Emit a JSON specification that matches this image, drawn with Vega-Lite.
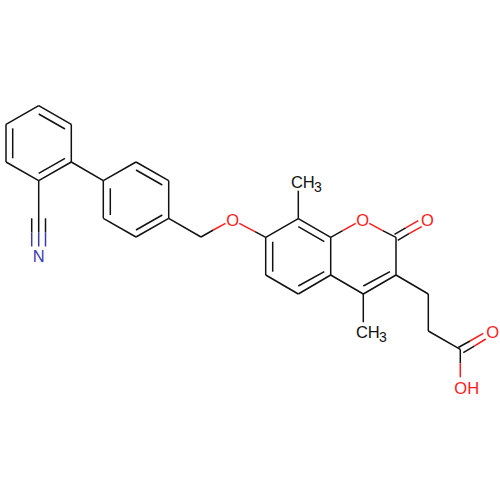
{
  "$schema": "https://vega.github.io/schema/vega-lite/v6.json",
  "width": 500,
  "height": 500,
  "padding": 0,
  "autosize": {"type": "fit", "contains": "padding"},
  "background": "white",
  "view": {"stroke": null},
  "datasets": {
    "bonds": [
      {"x": 38.7, "y": 105.7, "x2": 71.3, "y2": 124.3, "el": "C"},
      {"x": 71.3, "y": 124.3, "x2": 71.3, "y2": 162, "el": "C"},
      {"x": 71.3, "y": 162, "x2": 38.7, "y2": 180.7, "el": "C"},
      {"x": 38.7, "y": 180.7, "x2": 6, "y2": 162, "el": "C"},
      {"x": 6, "y": 162, "x2": 6, "y2": 124.3, "el": "C"},
      {"x": 6, "y": 124.3, "x2": 38.7, "y2": 105.7, "el": "C"},
      {"x": 38.7, "y": 114, "x2": 65, "y2": 129, "el": "C"},
      {"x": 12.7, "y": 128.3, "x2": 12.7, "y2": 158.3, "el": "C"},
      {"x": 65, "y": 158.3, "x2": 38.7, "y2": 173.3, "el": "C"},
      {"x": 38.7, "y": 180.7, "x2": 38.7, "y2": 232.5, "el": "C"},
      {"x": 38.7, "y": 232.5, "x2": 38.7, "y2": 246.5, "el": "N"},
      {"x": 31.7, "y": 218.3, "x2": 31.7, "y2": 232.5, "el": "C"},
      {"x": 31.7, "y": 232.5, "x2": 31.7, "y2": 246.5, "el": "N"},
      {"x": 45.5, "y": 218.3, "x2": 45.5, "y2": 232.5, "el": "C"},
      {"x": 45.5, "y": 232.5, "x2": 45.5, "y2": 246.5, "el": "N"},
      {"x": 71.3, "y": 162, "x2": 103.3, "y2": 180.7, "el": "C"},
      {"x": 103.3, "y": 180.7, "x2": 136, "y2": 162, "el": "C"},
      {"x": 136, "y": 162, "x2": 168.7, "y2": 180.7, "el": "C"},
      {"x": 168.7, "y": 180.7, "x2": 168.7, "y2": 218.3, "el": "C"},
      {"x": 168.7, "y": 218.3, "x2": 136, "y2": 237, "el": "C"},
      {"x": 136, "y": 237, "x2": 103.3, "y2": 218.3, "el": "C"},
      {"x": 103.3, "y": 218.3, "x2": 103.3, "y2": 180.7, "el": "C"},
      {"x": 136, "y": 170, "x2": 162.3, "y2": 185, "el": "C"},
      {"x": 110.3, "y": 188.3, "x2": 110.3, "y2": 215, "el": "C"},
      {"x": 162.3, "y": 215, "x2": 136, "y2": 230, "el": "C"},
      {"x": 168.7, "y": 218.3, "x2": 201, "y2": 237, "el": "C"},
      {"x": 201, "y": 237, "x2": 213.3, "y2": 230, "el": "C"},
      {"x": 213.3, "y": 230, "x2": 225.5, "y2": 223.3, "el": "O"},
      {"x": 239.3, "y": 223.3, "x2": 255, "y2": 231.7, "el": "O"},
      {"x": 255, "y": 231.7, "x2": 265.7, "y2": 237.3, "el": "C"},
      {"x": 265.7, "y": 237.3, "x2": 298.3, "y2": 218.7, "el": "C"},
      {"x": 298.3, "y": 218.7, "x2": 330.7, "y2": 237.3, "el": "C"},
      {"x": 330.7, "y": 237.3, "x2": 330.7, "y2": 275, "el": "C"},
      {"x": 330.7, "y": 275, "x2": 298.3, "y2": 294, "el": "C"},
      {"x": 298.3, "y": 294, "x2": 265.7, "y2": 275, "el": "C"},
      {"x": 265.7, "y": 275, "x2": 265.7, "y2": 237.3, "el": "C"},
      {"x": 298.3, "y": 226.7, "x2": 324.3, "y2": 241.7, "el": "C"},
      {"x": 272.7, "y": 241.7, "x2": 272.7, "y2": 271.7, "el": "C"},
      {"x": 324.3, "y": 271.7, "x2": 298.3, "y2": 286, "el": "C"},
      {"x": 298.3, "y": 218.7, "x2": 298.3, "y2": 190.7, "el": "C"},
      {"x": 330.7, "y": 237.3, "x2": 342.7, "y2": 230.7, "el": "C"},
      {"x": 342.7, "y": 230.7, "x2": 355.7, "y2": 223.3, "el": "O"},
      {"x": 369.3, "y": 223.3, "x2": 382.7, "y2": 230.7, "el": "O"},
      {"x": 382.7, "y": 230.7, "x2": 396, "y2": 237.3, "el": "C"},
      {"x": 394.5, "y": 234.3, "x2": 405.7, "y2": 227.8, "el": "C"},
      {"x": 405.7, "y": 227.8, "x2": 418.3, "y2": 220.6, "el": "O"},
      {"x": 397.7, "y": 240.3, "x2": 409, "y2": 233.7, "el": "C"},
      {"x": 409, "y": 233.7, "x2": 421.7, "y2": 226.7, "el": "O"},
      {"x": 396, "y": 237.3, "x2": 396, "y2": 275, "el": "C"},
      {"x": 396, "y": 275, "x2": 363.3, "y2": 294, "el": "C"},
      {"x": 390, "y": 271.7, "x2": 363.3, "y2": 286, "el": "C"},
      {"x": 363.3, "y": 294, "x2": 330.7, "y2": 275, "el": "C"},
      {"x": 363.3, "y": 294, "x2": 363.3, "y2": 322.3, "el": "C"},
      {"x": 396, "y": 275, "x2": 428.3, "y2": 294, "el": "C"},
      {"x": 428.3, "y": 294, "x2": 428.3, "y2": 331, "el": "C"},
      {"x": 428.3, "y": 331, "x2": 460.3, "y2": 349.3, "el": "C"},
      {"x": 458.3, "y": 347.5, "x2": 470, "y2": 341, "el": "C"},
      {"x": 470, "y": 341, "x2": 483.3, "y2": 333.3, "el": "O"},
      {"x": 463.3, "y": 352.7, "x2": 474.3, "y2": 346.2, "el": "C"},
      {"x": 474.3, "y": 346.2, "x2": 485.7, "y2": 339, "el": "O"},
      {"x": 460.3, "y": 349.3, "x2": 460.3, "y2": 363.3, "el": "C"},
      {"x": 460.3, "y": 363.3, "x2": 460.3, "y2": 377.3, "el": "O"}
    ],
    "atoms": [
      {"x": 38.7, "y": 257, "label": "N", "el": "N", "part": "main"},
      {"x": 232.7, "y": 220.5, "label": "O", "el": "O", "part": "main"},
      {"x": 362.7, "y": 220.5, "label": "O", "el": "O", "part": "main"},
      {"x": 427.3, "y": 220.5, "label": "O", "el": "O", "part": "main"},
      {"x": 492.7, "y": 332.5, "label": "O", "el": "O", "part": "main"},
      {"x": 466.7, "y": 388.5, "label": "OH", "el": "O", "part": "main"},
      {"x": 302.8, "y": 182.5, "label": "CH", "el": "C", "part": "main"},
      {"x": 318, "y": 187.5, "label": "3", "el": "C", "part": "sub"},
      {"x": 367.8, "y": 332.5, "label": "CH", "el": "C", "part": "main"},
      {"x": 383, "y": 337.5, "label": "3", "el": "C", "part": "sub"}
    ]
  },
  "encoding": {
    "x": {"field": "x", "type": "quantitative", "scale": {"domain": [0, 500]}, "axis": null},
    "y": {"field": "y", "type": "quantitative", "scale": {"domain": [500, 0]}, "axis": null},
    "color": {"field": "el", "type": "nominal", "scale": {"domain": ["C", "O", "N"], "range": ["#111111", "#ff1a1a", "#3a3ab0"]}, "legend": null}
  },
  "layer": [
    {
      "data": {"name": "bonds"},
      "mark": {"type": "rule", "strokeWidth": 1.5},
      "encoding": {
        "x2": {"field": "x2"},
        "y2": {"field": "y2"}
      }
    },
    {
      "data": {"name": "atoms"},
      "transform": [{"filter": "datum.part === 'main'"}],
      "mark": {"type": "text", "font": "Liberation Sans", "fontSize": 16.5, "align": "center", "baseline": "middle"},
      "encoding": {"text": {"field": "label"}}
    },
    {
      "data": {"name": "atoms"},
      "transform": [{"filter": "datum.part === 'sub'"}],
      "mark": {"type": "text", "font": "Liberation Sans", "fontSize": 14, "align": "center", "baseline": "middle"},
      "encoding": {"text": {"field": "label"}}
    }
  ]
}
